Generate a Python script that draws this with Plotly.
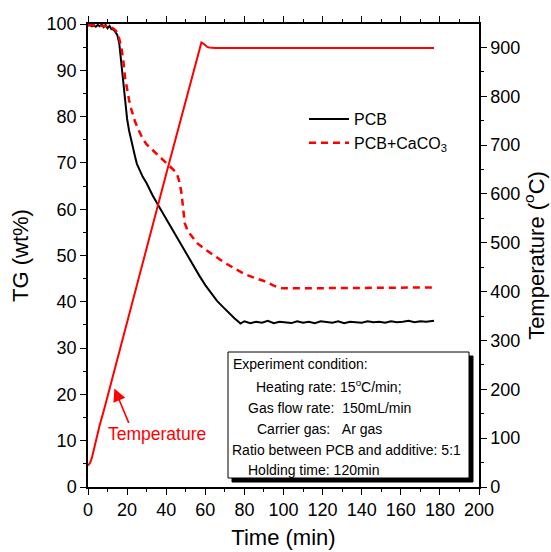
import plotly.graph_objects as go

# ---------------- data ----------------
t_pcb = [0, 1, 2, 3, 4, 5, 6, 7, 8, 9, 10, 11, 12, 13, 14, 15, 16, 17, 18, 19, 20,
         21, 22, 23, 24, 25, 26, 28, 30, 33, 36, 39, 42, 45, 48, 51, 54, 57, 60,
         63, 66, 69, 72, 75, 77, 78, 80, 83, 86, 89, 92, 95, 98, 101, 104, 107,
         110, 113, 116, 119, 122, 125, 128, 131, 134, 137, 140, 143, 146, 149,
         152, 155, 158, 161, 164, 167, 170, 173, 177]
tg_pcb = [99.6, 99.8, 99.5, 99.7, 99.4, 99.8, 99.5, 99.9, 99.3, 99.8, 99.1, 99.6, 98.9,
          98.8, 98.3, 97.6, 95.8, 92.0, 87.0, 83.0, 79.5,
          77.0, 75.0, 73.6, 71.5, 69.8, 68.8, 67.0, 65.6, 63.0, 60.8, 58.6, 56.4,
          54.2, 52.2, 50.0, 47.8, 45.6, 43.6, 41.8, 40.2, 38.9, 37.6, 36.4, 35.7,
          35.3, 35.8, 35.4, 35.7, 35.5, 35.9, 35.4, 35.7, 35.6, 35.4, 35.8, 35.5,
          35.7, 35.4, 35.8, 35.6, 35.5, 35.8, 35.4, 35.7, 35.6, 35.5, 35.8, 35.6,
          35.7, 35.5, 35.8, 35.6, 35.7, 35.9, 35.6, 35.8, 35.7, 35.9]

t_mix = [0, 4, 8, 12, 14, 15, 16, 17, 18, 19, 20, 21, 22, 23, 24, 26, 28, 30, 33, 36,
         40, 43, 45, 46, 47, 47.8, 48.5, 49.5, 51, 53, 56, 60, 65, 70, 75, 80, 85,
         90, 95, 98, 100, 110, 120, 130, 140, 150, 160, 170, 177]
tg_mix = [99.8, 99.7, 99.6, 99.3, 98.7, 98.0, 96.8, 95.0, 92.3, 88.3, 85.5, 83.6, 81.8,
          80.3, 79.0, 77.0, 75.2, 74.0, 72.8, 71.6, 70.2, 68.9, 68.0, 67.0, 65.5,
          63.5, 60.5, 57.0, 55.3, 54.2, 52.6, 51.3, 49.8, 48.4, 47.2, 46.0, 45.2,
          44.5, 43.5, 43.0, 42.9, 42.9, 42.9, 42.95, 43.0, 43.0, 43.05, 43.1, 43.1]

t_temp = [0, 1, 2, 3, 4, 5, 6, 8, 10, 12, 15, 20, 25, 30, 35, 40, 45, 50, 55, 56,
          57, 57.5, 58, 59, 60, 61, 62, 65, 70, 80, 100, 120, 140, 160, 177]
temp = [44, 49, 60, 78, 96, 112, 127, 155, 185, 215, 261, 337, 413, 489, 565, 641,
        717, 793, 869, 885, 900, 907, 910, 908, 904, 901, 900, 899, 899, 899, 899,
        899, 899, 899, 899]

x_ticks = [0, 20, 40, 60, 80, 100, 120, 140, 160, 180, 200]
y_ticks = [0, 10, 20, 30, 40, 50, 60, 70, 80, 90, 100]
y2_ticks = [0, 100, 200, 300, 400, 500, 600, 700, 800, 900]

info_lines = [
    "Experiment condition:",
    "Heating rate: 15<sup>o</sup>C/min;",
    "Gas flow rate:\u00a0\u00a0150mL/min",
    "Carrier gas:\u00a0\u00a0\u00a0Ar gas",
    "Ratio between PCB and additive: 5:1",
    "Holding time: 120min",
]

# ---------------- layout helpers ----------------
W, H = 551, 552
L, R, T, B = 88, 72, 24, 65
PW, PH = W - L - R, H - T - B


def px(xpix):
    return (xpix - L) / PW


def py(ypix):
    return (H - B - ypix) / PH


FONT = "Liberation Sans, Arial, sans-serif"

fig = go.Figure()
fig.add_trace(go.Scatter(x=t_pcb, y=tg_pcb, mode="lines", name="PCB",
                         line=dict(color="black", width=2)))
fig.add_trace(go.Scatter(x=t_mix, y=tg_mix, mode="lines", name="PCB+CaCO<sub>3</sub>",
                         line=dict(color="#ff0000", width=2.5, dash="7px,5px")))
fig.add_trace(go.Scatter(x=t_temp, y=temp, mode="lines", name="Temperature",
                         yaxis="y2", showlegend=False,
                         line=dict(color="#ff0000", width=2)))

axis_common = dict(showgrid=False, zeroline=False, showline=True, linecolor="black",
                   linewidth=1.5, ticks="outside", ticklen=6, tickwidth=1.3,
                   tickcolor="black", tickfont=dict(family=FONT, size=18, color="black"))

fig.update_layout(
    width=W, height=H,
    margin=dict(l=L, r=R, t=T, b=B, autoexpand=False),
    paper_bgcolor="white", plot_bgcolor="white",
    font=dict(family=FONT, color="black"),
    xaxis=dict(range=[0, 200], tickvals=x_ticks, mirror="ticks",
               minor=dict(dtick=10, ticks="outside", ticklen=3.5, tickwidth=1.2,
                          tickcolor="black"),
               title=dict(text="Time (min)", font=dict(family=FONT, size=22),
                          standoff=10),
               **axis_common),
    yaxis=dict(range=[0, 100], tickvals=y_ticks,
               minor=dict(dtick=5, ticks="outside", ticklen=3.5, tickwidth=1.2,
                          tickcolor="black"),
               title=dict(text="TG (wt%)", font=dict(family=FONT, size=22),
                          standoff=12),
               **axis_common),
    yaxis2=dict(range=[0, 948], tickvals=y2_ticks, overlaying="y", side="right",
                minor=dict(dtick=50, ticks="outside", ticklen=3.5, tickwidth=1.2,
                           tickcolor="black"),
                title=dict(text="Temperature (<sup>o</sup>C)",
                           font=dict(family=FONT, size=22), standoff=6),
                **axis_common),
    legend=dict(x=px(304), y=py(102), xanchor="left", yanchor="top",
                bgcolor="rgba(0,0,0,0)", borderwidth=0,
                font=dict(family=FONT, size=16, color="black"),
                itemwidth=40, tracegroupgap=0),
    showlegend=True,
)

# info box with shadow
fig.add_shape(type="rect", xref="paper", yref="paper",
              x0=px(232), x1=px(473), y0=py(482), y1=py(356),
              fillcolor="black", line=dict(color="black", width=1), layer="above")
fig.add_shape(type="rect", xref="paper", yref="paper",
              x0=px(228), x1=px(469), y0=py(478), y1=py(352),
              fillcolor="white", line=dict(color="black", width=1), layer="above")

line_x = [231, 254, 246, 255, 230, 246]
line_y = [364, 386, 408, 429, 450, 470]
for txt, lx, ly in zip(info_lines, line_x, line_y):
    fig.add_annotation(text=txt, xref="paper", yref="paper", x=px(lx), y=py(ly),
                       xanchor="left", yanchor="middle", showarrow=False,
                       font=dict(family=FONT, size=14, color="black"))

# "Temperature" label with arrow
fig.add_annotation(text="Temperature", xref="paper", yref="paper",
                   x=px(157), y=py(434), xanchor="center", yanchor="middle",
                   showarrow=False, font=dict(family=FONT, size=17.5, color="#ff0000"))
fig.add_annotation(text="", x=13.5, y=21.3, xref="x", yref="y",
                   ax=15, ay=36, showarrow=True, arrowhead=2, arrowsize=1.6,
                   arrowwidth=1.6, arrowcolor="#ff0000")

fig.write_html("out.html")
